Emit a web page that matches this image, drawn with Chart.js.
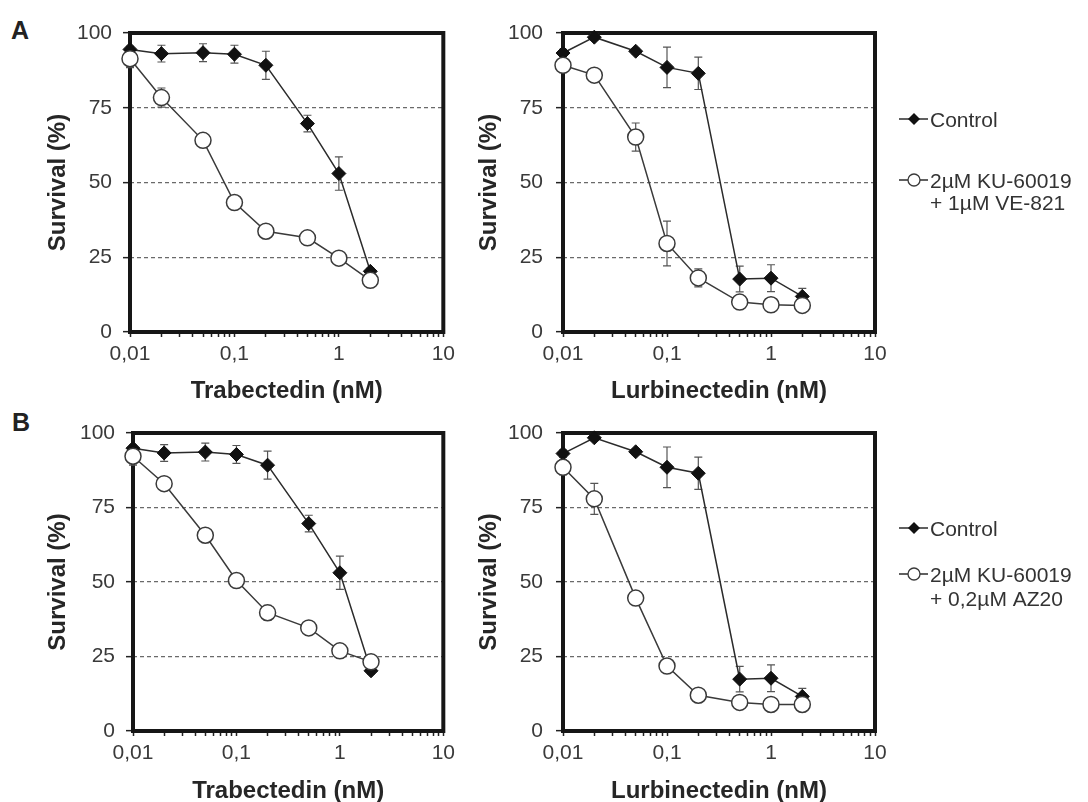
<!DOCTYPE html>
<html>
<head>
<meta charset="utf-8">
<script src="https://cdn.jsdelivr.net/npm/chart.js@4.4.1/dist/chart.umd.min.js"></script>
<style>
  html, body { margin: 0; padding: 0; background: #fff; overflow: hidden; }
  body { width: 1088px; height: 802px; position: relative; font-family: "Liberation Sans", Arial, sans-serif; }
  .panel-label { position: absolute; font-weight: bold; font-size: 25px; line-height: 25px; color: #222; }
  canvas { position: absolute; }
</style>
</head>
<body>
<div class="panel-label" style="left:11px; top:18px;">A</div>
<div class="panel-label" style="left:12px; top:410px;">B</div>
<canvas id="trabA" width="460" height="410" style="left:0; top:0;"></canvas>
<canvas id="lurbA" width="628" height="410" style="left:460px; top:0;"></canvas>
<canvas id="trabB" width="460" height="406" style="left:0; top:400px;"></canvas>
<canvas id="lurbB" width="628" height="406" style="left:460px; top:400px;"></canvas>
<script>
// doses (nM) and axis ticks
const doses = [0.01, 0.02, 0.05, 0.1, 0.2, 0.5, 1, 2];
const xTickValues = [0.01, 0.1, 1, 10];
const xTickLabels = ['0,01', '0,1', '1', '10'];
const yTickValues = [0, 25, 50, 75, 100];

const legendA = ['Control', '2µM KU-60019', '+ 1µM VE-821'];
const legendB = ['Control', '2µM KU-60019', '+ 0,2µM AZ20'];

// panel A - trabectedin
const trabControlA = [94.5, 93.1, 93.4, 92.9, 89.2, 69.7, 53.0, 20.3];
const trabControlErrA = [1, 2.8, 3, 3, 4.7, 2.8, 5.6, 1];
const trabComboA = [91.4, 78.4, 64.1, 43.3, 33.7, 31.5, 24.7, 17.3];
const trabComboErrA = [3, 3.2, 1, 1, 1, 1, 1, 1];
// panel A - lurbinectedin
const lurbControlA = [93.3, 98.6, 93.9, 88.5, 86.5, 17.7, 18.0, 11.9];
const lurbControlErrA = [1.2, 1, 1, 6.8, 5.4, 4.3, 4.5, 2.7];
const lurbComboA = [89.2, 85.9, 65.2, 29.6, 18.1, 10.0, 9.1, 8.9];
const lurbComboErrA = [1, 1, 4.7, 7.5, 3, 1, 1, 1];
// panel B - trabectedin
const trabControlB = [94.9, 93.3, 93.6, 92.8, 89.2, 69.6, 53.1, 20.2];
const trabControlErrB = [1, 2.8, 3, 3, 4.7, 2.8, 5.6, 1];
const trabComboB = [92.2, 83.0, 65.7, 50.5, 39.7, 34.6, 26.9, 23.2];
const trabComboErrB = [3, 1, 1, 1, 2.5, 1, 1, 1];
// panel B - lurbinectedin
const lurbControlB = [93.1, 98.4, 93.7, 88.5, 86.5, 17.4, 17.7, 11.6];
const lurbControlErrB = [1.2, 1, 1, 6.8, 5.4, 4.3, 4.5, 2.7];
const lurbComboB = [88.5, 77.9, 44.6, 21.8, 12.0, 9.6, 8.9, 8.9];
const lurbComboErrB = [2.5, 5.2, 1, 1, 1, 1, 1, 1];

const FONT = '"Liberation Sans", Arial, sans-serif';

// minor tick positions for the log axis (1..9 per decade)
const xTickPositions = [];
for (let d = 0; d < xTickValues.length - 1; d++) {
  for (let m = 1; m <= 9; m++) {
    xTickPositions.push(parseFloat((m * xTickValues[d]).toPrecision(3)));
  }
}
xTickPositions.push(xTickValues[xTickValues.length - 1]);

const framePlugin = {
  id: 'frame',
  beforeDatasetsDraw(chart) {
    const { ctx, chartArea: a } = chart;
    ctx.save();
    ctx.strokeStyle = '#161616';
    ctx.lineWidth = 4;
    ctx.strokeRect(a.left, a.top, a.right - a.left, a.bottom - a.top);
    ctx.restore();
  }
};

const errorBarPlugin = {
  id: 'errorBars',
  beforeDatasetsDraw(chart) {
    const { ctx, scales: { x, y } } = chart;
    ctx.save();
    ctx.strokeStyle = '#555';
    ctx.lineWidth = 1.2;
    chart.data.datasets.forEach(ds => {
      (ds.errors || []).forEach((e, i) => {
        const p = ds.data[i];
        const px = x.getPixelForValue(p.x);
        const top = y.getPixelForValue(p.y + e);
        const bot = y.getPixelForValue(p.y - e);
        ctx.beginPath();
        ctx.moveTo(px, top); ctx.lineTo(px, bot);
        ctx.moveTo(px - 4, top); ctx.lineTo(px + 4, top);
        ctx.moveTo(px - 4, bot); ctx.lineTo(px + 4, bot);
        ctx.stroke();
      });
    });
    ctx.restore();
  }
};

function sideLegend(labels, rowY) {
  return {
    id: 'sideLegend',
    afterDraw(chart) {
      const { ctx, chartArea: a } = chart;
      const x0 = a.right + 24, x1 = a.right + 53, mx = a.right + 39, tx = a.right + 55;
      ctx.save();
      ctx.font = '21px ' + FONT;
      ctx.fillStyle = '#333';
      ctx.textBaseline = 'alphabetic';
      ctx.textAlign = 'left';
      // control row
      let y = a.top + rowY[0];
      ctx.strokeStyle = '#2b2b2b';
      ctx.lineWidth = 1.5;
      ctx.beginPath(); ctx.moveTo(x0, y); ctx.lineTo(x1, y); ctx.stroke();
      ctx.fillStyle = '#111';
      ctx.beginPath();
      ctx.moveTo(mx - 6, y); ctx.lineTo(mx, y - 6); ctx.lineTo(mx + 6, y); ctx.lineTo(mx, y + 6);
      ctx.closePath(); ctx.fill();
      ctx.fillStyle = '#333';
      ctx.fillText(labels[0], tx, y + 7.5);
      // combination row
      y = a.top + rowY[1];
      ctx.beginPath(); ctx.moveTo(x0, y); ctx.lineTo(x1, y); ctx.stroke();
      ctx.beginPath(); ctx.arc(mx, y, 6, 0, Math.PI * 2);
      ctx.fillStyle = '#fff'; ctx.fill();
      ctx.strokeStyle = '#3a3a3a'; ctx.lineWidth = 1.3; ctx.stroke();
      ctx.fillStyle = '#333';
      ctx.fillText(labels[1], tx, y + 7.5);
      ctx.fillText(labels[2], tx, y + rowY[2] + 7.5);
      ctx.restore();
    }
  };
}

function makeChart(id, cfg) {
  const plugins = [framePlugin, errorBarPlugin];
  if (cfg.legend) plugins.push(sideLegend(cfg.legend, cfg.legendY));
  new Chart(document.getElementById(id), {
    type: 'line',
    data: {
      datasets: [
        {
          label: 'Control',
          data: doses.map((d, i) => ({ x: d, y: cfg.control[i] })),
          errors: cfg.controlErr,
          order: 1,
          borderColor: '#2b2b2b',
          borderWidth: 1.5,
          pointStyle: 'rectRot',
          pointRadius: 7,
          pointBackgroundColor: '#111',
          pointBorderColor: '#111',
          pointBorderWidth: 1,
          tension: 0,
          clip: false
        },
        {
          label: 'Combination',
          data: doses.map((d, i) => ({ x: d, y: cfg.combo[i] })),
          errors: cfg.comboErr,
          order: 0,
          borderColor: '#3a3a3a',
          borderWidth: 1.5,
          pointStyle: 'circle',
          pointRadius: 8,
          pointBackgroundColor: '#fff',
          pointBorderColor: '#3a3a3a',
          pointBorderWidth: 1.5,
          tension: 0,
          clip: false
        }
      ]
    },
    options: {
      responsive: false,
      animation: false,
      events: [],
      layout: { padding: cfg.padding },
      plugins: {
        legend: { display: false },
        tooltip: { enabled: false }
      },
      scales: {
        x: {
          type: 'logarithmic',
          min: 0.01,
          max: 10,
          afterBuildTicks: s => { s.ticks = xTickPositions.map(v => ({ value: v })); },
          afterFit: s => { s.height = cfg.xHeight; },
          ticks: {
            autoSkip: false,
            maxRotation: 0,
            minRotation: 0,
            padding: 5,
            color: '#3a3a3a',
            font: { size: 21, family: FONT },
            callback: v => {
              const i = xTickValues.indexOf(v);
              return i >= 0 ? xTickLabels[i] : '';
            }
          },
          grid: { drawOnChartArea: false, tickLength: 5, tickColor: '#222', tickWidth: 1.5, color: '#222' },
          border: { display: false },
          title: {
            display: true,
            text: cfg.xTitle,
            color: '#262626',
            font: { size: 24, weight: 'bold', family: FONT },
            padding: { top: 0, bottom: cfg.titlePad }
          }
        },
        y: {
          min: 0,
          max: 100,
          afterBuildTicks: s => { s.ticks = yTickValues.map(v => ({ value: v })); },
          afterFit: s => { s.width = cfg.yWidth; },
          ticks: {
            padding: cfg.yPad,
            color: '#3a3a3a',
            font: { size: 21, family: FONT }
          },
          grid: {
            color: c => (c.tick && c.tick.value > 0 && c.tick.value < 100) ? '#6a6a6a' : 'rgba(0,0,0,0)',
            lineWidth: 1.3,
            tickColor: '#222',
            tickLength: 7,
            tickWidth: 1.5,
            tickBorderDash: []
          },
          border: { display: false, dash: [4, 3] },
          title: {
            display: true,
            text: 'Survival (%)',
            color: '#262626',
            font: { size: 24, weight: 'bold', family: FONT },
            padding: 0
          }
        }
      }
    },
    plugins: plugins
  });
}

makeChart('trabA', {
  xTitle: 'Trabectedin (nM)',
  control: trabControlA, controlErr: trabControlErrA,
  combo: trabComboA, comboErr: trabComboErrA,
  padding: { left: 44, top: 33, right: 14, bottom: 0 },
  yWidth: 86, yPad: 11, xHeight: 78, titlePad: 4
});
makeChart('lurbA', {
  xTitle: 'Lurbinectedin (nM)',
  control: lurbControlA, controlErr: lurbControlErrA,
  combo: lurbComboA, comboErr: lurbComboErrA,
  padding: { left: 15, top: 33, right: 213, bottom: 0 },
  yWidth: 88, yPad: 13, xHeight: 78, titlePad: 4,
  legend: legendA, legendY: [86, 147, 22]
});
makeChart('trabB', {
  xTitle: 'Trabectedin (nM)',
  control: trabControlB, controlErr: trabControlErrB,
  combo: trabComboB, comboErr: trabComboErrB,
  padding: { left: 44, top: 33, right: 11, bottom: 0 },
  yWidth: 89, yPad: 11, xHeight: 75, titlePad: 0
});
makeChart('lurbB', {
  xTitle: 'Lurbinectedin (nM)',
  control: lurbControlB, controlErr: lurbControlErrB,
  combo: lurbComboB, comboErr: lurbComboErrB,
  padding: { left: 15, top: 33, right: 213, bottom: 0 },
  yWidth: 88, yPad: 13, xHeight: 75, titlePad: 0,
  legend: legendB, legendY: [95, 141, 24]
});
</script>
</body>
</html>
